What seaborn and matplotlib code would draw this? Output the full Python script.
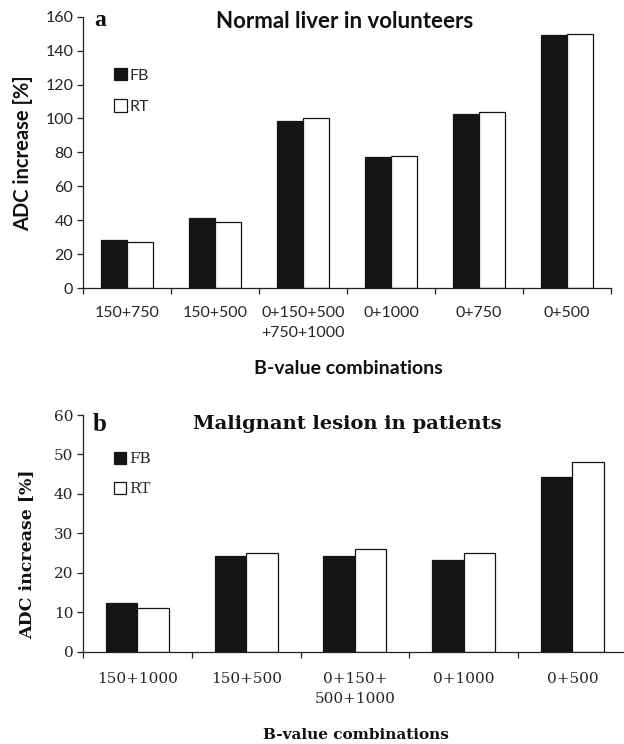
import matplotlib
matplotlib.use("Agg")
import matplotlib.pyplot as plt
import seaborn as sns
import pandas as pd

# ---- data ----
series = ["FB", "RT"]

combos_a = ["150+750", "150+500", "0+150+500\n+750+1000", "0+1000", "0+750", "0+500"]
fb_a = [28.5, 41.5, 98.5, 77.5, 102.5, 149.5]
rt_a = [27, 39, 100, 78, 104, 150]

combos_b = ["150+1000", "150+500", "0+150+\n500+1000", "0+1000", "0+500"]
fb_b = [12.2, 24.2, 24.2, 23.2, 44.2]
rt_b = [11, 25, 26, 25, 48]

yticks_a = [0, 20, 40, 60, 80, 100, 120, 140, 160]
yticks_b = [0, 10, 20, 30, 40, 50, 60]

title_a = "Normal liver in volunteers"
title_b = "Malignant lesion in patients"
ylabel = "ADC increase [%]"
xlabel = "B-value combinations"

sns.set_theme(style="white")

W, H = 624, 744
fig = plt.figure(figsize=(W / 100, H / 100), dpi=100)


def fx(px):
    return px / W


def fy(py):
    return 1 - py / H


def make_df(combos, fb, rt):
    rows = []
    for c, a, b in zip(combos, fb, rt):
        rows.append({"combo": c, "mode": series[0], "value": a})
        rows.append({"combo": c, "mode": series[1], "value": b})
    return pd.DataFrame(rows)


def draw(ax, combos, fb, rt, yticks, fam, tick_fs, tick_pad, legend_top, legend_fs):
    df = make_df(combos, fb, rt)
    sns.barplot(data=df, x="combo", y="value", hue="mode", order=combos,
                hue_order=series, palette=["#141414", "white"],
                edgecolor="#141414", linewidth=0.9, width=0.58, ax=ax,
                legend=True)
    n = len(combos)
    ax.set_xlim(-0.5, n - 0.5)
    ax.set_ylim(yticks[0], yticks[-1])
    ax.set_yticks(yticks)
    ax.set_yticklabels([str(t) for t in yticks], fontsize=tick_fs, family=fam)
    ax.set_xticks([i - 0.5 for i in range(n + 1)])
    ax.set_xticklabels([])
    ax.set_xticks(list(range(n)), minor=True)
    ax.set_xticklabels(combos, minor=True, fontsize=tick_fs, family=fam,
                       linespacing=1.5)
    ax.tick_params(axis="x", which="minor", length=0, pad=tick_pad)
    ax.tick_params(axis="x", which="major", length=4, width=0.9,
                   direction="out", color="#222222", bottom=True)
    ax.tick_params(axis="y", length=4, width=0.9, direction="out",
                   color="#222222", left=True, pad=3, labelcolor="#222222")
    ax.tick_params(axis="x", labelcolor="#222222")
    for s in ["top", "right"]:
        ax.spines[s].set_visible(False)
    for s in ["left", "bottom"]:
        ax.spines[s].set_color("#222222")
        ax.spines[s].set_linewidth(0.9)
    ax.set_xlabel("")
    ax.set_ylabel("")
    ax.grid(False)
    handles, labels = ax.get_legend_handles_labels()
    ax.legend(handles, labels, loc="upper left",
              bbox_to_anchor=(fx(114), fy(legend_top)),
              bbox_transform=fig.transFigure, frameon=False,
              borderpad=0, borderaxespad=0, handlelength=0.8,
              handleheight=0.8, handletextpad=0.2, labelspacing=1.05,
              prop={"family": fam, "size": legend_fs})


sans_a = ["Lato", "DejaVu Sans"]
serif_b = ["DejaVu Serif"]

# panel a
ax1 = fig.add_axes([fx(83), fy(288), fx(611 - 83), (288 - 16.7) / H])
draw(ax1, combos_a, fb_a, rt_a, yticks_a, sans_a, 11.5, 13, 68, 11.5)
fig.text(fx(345), fy(21), title_a, ha="center", va="center",
         fontsize=16, fontweight="bold", family=sans_a, color="#111111")
fig.text(fx(94), fy(20), "a", ha="left", va="center", fontsize=17,
         fontweight="bold", family=["Liberation Serif"], color="#111111")
fig.text(fx(23), fy(153), ylabel, ha="center", va="center", rotation=90,
         fontsize=14.5, fontweight="bold", family=sans_a, color="#111111")
fig.text(fx(348), fy(368), xlabel, ha="center", va="center",
         fontsize=14, fontweight="bold", family=sans_a, color="#111111")

# panel b
ax2 = fig.add_axes([fx(83), fy(651.5), fx(626.8 - 83), (651.5 - 415) / H])
draw(ax2, combos_b, fb_b, rt_b, yticks_b, serif_b, 11, 15, 452, 11)
fig.text(fx(347), fy(424), title_b, ha="center", va="center",
         fontsize=14, fontweight="bold", family=serif_b, color="#111111")
fig.text(fx(93), fy(424), "b", ha="left", va="center", fontsize=18,
         fontweight="bold", family=["Liberation Serif"], color="#111111")
fig.text(fx(27), fy(554), ylabel, ha="center", va="center", rotation=90,
         fontsize=12.5, fontweight="bold", family=serif_b, color="#111111")
fig.text(fx(356), fy(735), xlabel, ha="center", va="center",
         fontsize=11, fontweight="bold", family=serif_b, color="#111111")

fig.savefig("out.png", dpi=100, facecolor="white")
